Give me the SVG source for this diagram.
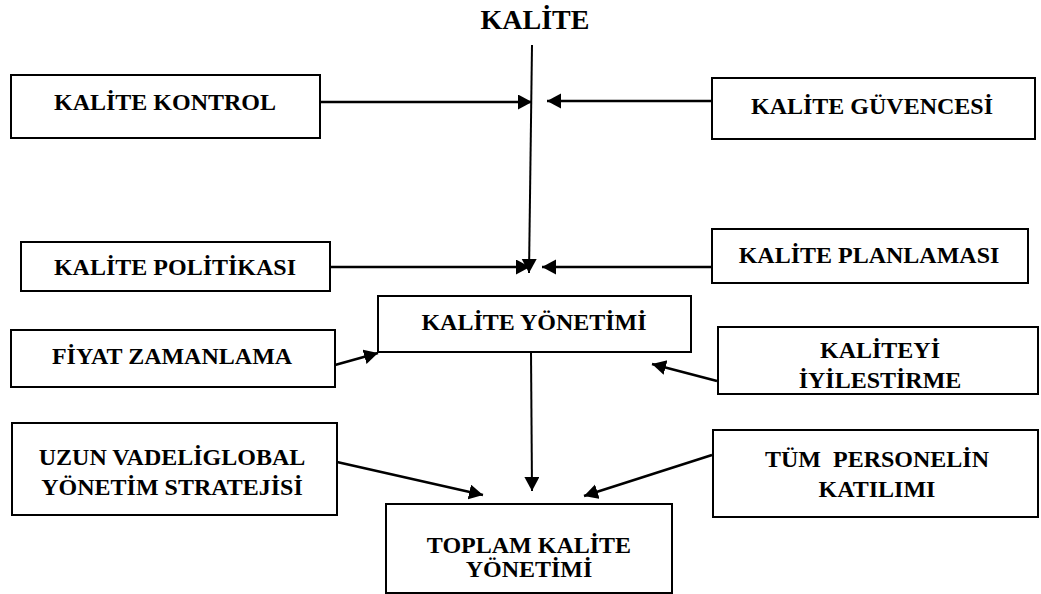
<svg xmlns="http://www.w3.org/2000/svg" width="1041" height="594" viewBox="0 0 1041 594" font-family="'Liberation Serif', 'Times New Roman', 'DejaVu Serif', serif">
<style>
.box{fill:#fff;stroke:#000;stroke-width:2}
.t{font-family:'Liberation Serif','Times New Roman','DejaVu Serif',serif;font-weight:bold;font-size:24px;fill:#000;text-anchor:middle}
.c{stroke:#000;stroke-width:2.5;fill:none;marker-end:url(#ah)}
</style>
<defs>
<marker id="ah" markerUnits="userSpaceOnUse" markerWidth="16" markerHeight="16" refX="14" refY="7.5" orient="auto">
<path d="M0,0 L14,7.5 L0,15 z" fill="#000"/>
</marker>
</defs>
<rect width="1041" height="594" fill="#fff"/>
<text class="t" x="535" y="29" font-size="28" style="font-size:28px">KALİTE</text>
<g id="connectors">
<line class="c" x1="532" y1="45" x2="529" y2="273" style="stroke-width:2"/>
<line class="c" x1="320" y1="102" x2="532" y2="102"/>
<line class="c" x1="712" y1="101" x2="547" y2="101"/>
<line class="c" x1="330" y1="267" x2="530" y2="267"/>
<line class="c" x1="712" y1="267" x2="542" y2="267"/>
<line class="c" x1="335" y1="365" x2="378" y2="353"/>
<line class="c" x1="717" y1="381" x2="652" y2="364"/>
<line class="c" x1="531" y1="352" x2="532" y2="491" style="stroke-width:2"/>
<line class="c" x1="337" y1="462" x2="483" y2="495"/>
<line class="c" x1="712" y1="455" x2="584" y2="496"/>
</g>
<g id="kontrol"><rect class="box" x="11" y="75" width="309" height="63"/><text class="t" x="165" y="110">KALİTE KONTROL</text></g>
<g id="guvencesi"><rect class="box" x="712" y="78" width="323" height="61"/><text class="t" x="872" y="114">KALİTE GÜVENCESİ</text></g>
<g id="politikasi"><rect class="box" x="21" y="242" width="309" height="49"/><text class="t" x="175" y="275">KALİTE POLİTİKASI</text></g>
<g id="planlamasi"><rect class="box" x="712" y="229" width="316" height="54"/><text class="t" x="869" y="263">KALİTE PLANLAMASI</text></g>
<g id="yonetimi"><rect class="box" x="378" y="296" width="313" height="56"/><text class="t" x="534" y="330">KALİTE YÖNETİMİ</text></g>
<g id="fiyat"><rect class="box" x="11" y="330" width="324" height="57"/><text class="t" x="172" y="364">FİYAT ZAMANLAMA</text></g>
<g id="iyilestirme"><rect class="box" x="718" y="327" width="320" height="67"/><text class="t" x="880" y="358">KALİTEYİ</text><text class="t" x="880" y="388">İYİLESTİRME</text></g>
<g id="uzun"><rect class="box" x="12" y="423" width="325" height="92"/><text class="t" x="172" y="465">UZUN VADELİGLOBAL</text><text class="t" x="172" y="495">YÖNETİM STRATEJİSİ</text></g>
<g id="tum"><rect class="box" x="713" y="430" width="325" height="87"/><text class="t" x="877" y="467" xml:space="preserve">TÜM  PERSONELİN</text><text class="t" x="877" y="497">KATILIMI</text></g>
<g id="toplam"><rect class="box" x="386" y="504" width="286" height="89"/><text class="t" x="529" y="553">TOPLAM KALİTE</text><text class="t" x="529" y="577">YÖNETİMİ</text></g>
</svg>
